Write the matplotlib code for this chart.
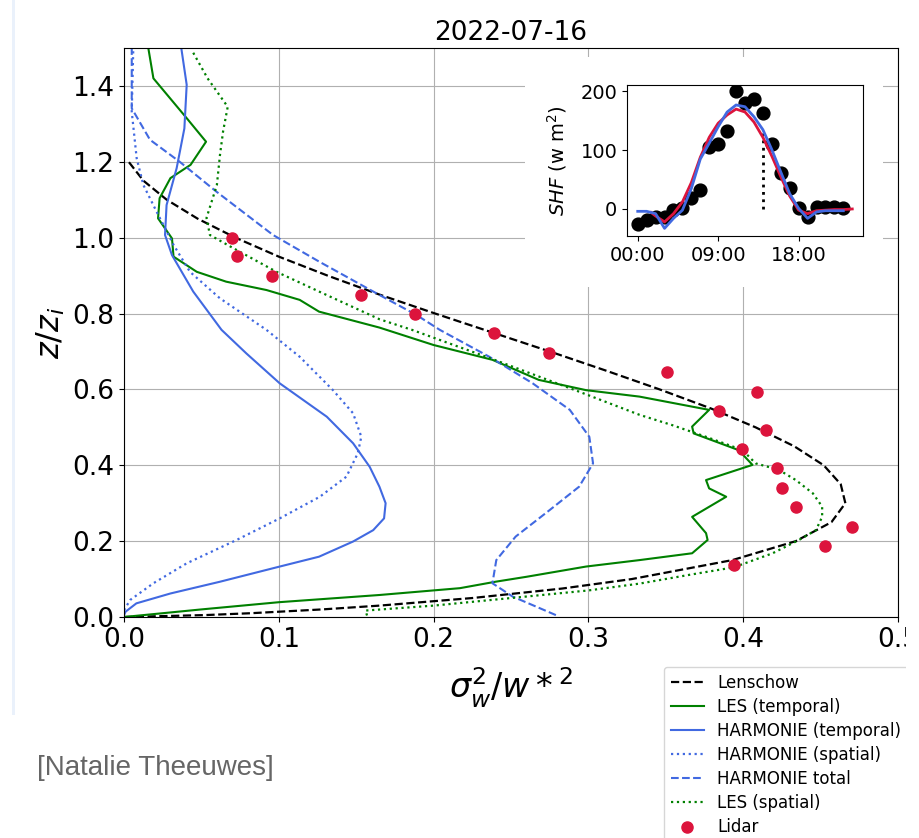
import matplotlib
matplotlib.use("Agg")
import matplotlib.pyplot as plt
from matplotlib.patches import Rectangle

# Lidar profile (z/zi, sigma_w^2 / w*^2)
lidar_z = [1.000, 0.951, 0.900, 0.849, 0.798, 0.748, 0.695, 0.645, 0.594, 0.543,
           0.493, 0.442, 0.392, 0.340, 0.289, 0.238, 0.187, 0.136]
lidar_x = [0.0695, 0.0731, 0.0957, 0.1533, 0.188, 0.2387, 0.2744, 0.3508, 0.4086, 0.3845,
           0.4146, 0.399, 0.4219, 0.425, 0.434, 0.4705, 0.4527, 0.3942]

# Lenschow reference profile
lens_z = [0.0, 0.005, 0.01, 0.02, 0.03, 0.05, 0.075, 0.1, 0.15, 0.2, 0.25, 0.3, 0.35, 0.4,
          0.45, 0.5, 0.55, 0.6, 0.65, 0.7, 0.75, 0.8, 0.85, 0.9, 0.95, 1.0, 1.05, 1.1, 1.15, 1.2]
lens_x = [0.0, 0.052, 0.082, 0.128, 0.165, 0.225, 0.283, 0.328, 0.393, 0.434, 0.457, 0.466,
          0.463, 0.452, 0.433, 0.408, 0.379, 0.346, 0.311, 0.275, 0.238, 0.201, 0.165, 0.1315,
          0.100, 0.072, 0.0476, 0.0276, 0.0126, 0.003]

# LES (temporal)
les_t_z = [0.0, 0.02, 0.039, 0.058, 0.076, 0.093, 0.106, 0.133, 0.150, 0.168, 0.203, 0.221,
           0.264, 0.317, 0.339, 0.361, 0.401, 0.440, 0.484, 0.502, 0.546, 0.581, 0.598, 0.625,
           0.678, 0.717, 0.763, 0.805, 0.836, 0.862, 0.884, 0.910, 0.950, 0.998, 1.051, 1.104,
           1.157, 1.192, 1.253, 1.315, 1.420, 1.500]
les_t_x = [0.0, 0.05, 0.100, 0.165, 0.217, 0.240, 0.260, 0.2985, 0.333, 0.367, 0.377, 0.376,
           0.367, 0.389, 0.378, 0.376, 0.406, 0.397, 0.368, 0.367, 0.378, 0.333, 0.2985, 0.268,
           0.238, 0.200, 0.165, 0.126, 0.1135, 0.092, 0.066, 0.047, 0.032, 0.031, 0.022, 0.023,
           0.030, 0.043, 0.053, 0.0405, 0.019, 0.0157]

# HARMONIE (temporal)
har_t_z = [0.005, 0.014, 0.036, 0.062, 0.093, 0.133, 0.159, 0.199, 0.229, 0.26, 0.30, 0.3435,
           0.396, 0.458, 0.528, 0.616, 0.695, 0.757, 0.858, 0.954, 1.007, 1.086, 1.183, 1.288,
           1.403, 1.500]
har_t_x = [0.0, 0.001, 0.008, 0.030, 0.062, 0.1006, 0.126, 0.148, 0.161, 0.168, 0.169, 0.165,
           0.1587, 0.148, 0.131, 0.1006, 0.079, 0.063, 0.0447, 0.031, 0.0265, 0.0275, 0.034,
           0.039, 0.0405, 0.037]

# HARMONIE (spatial)
har_s_z = [0.018, 0.045, 0.089, 0.1415, 0.203, 0.260, 0.317, 0.370, 0.4315, 0.475, 0.537,
           0.598, 0.686, 0.757, 0.840, 0.910, 0.981, 1.069, 1.139, 1.209, 1.332, 1.500]
har_s_x = [0.0, 0.004, 0.019, 0.0405, 0.0727, 0.1006, 0.1265, 0.1437, 0.151, 0.1533, 0.148,
           0.135, 0.1135, 0.092, 0.062, 0.0426, 0.032, 0.021, 0.0125, 0.0082, 0.005, 0.006]

# HARMONIE total
har_tot_z = [0.005, 0.054, 0.089, 0.150, 0.212, 0.282, 0.3435, 0.405, 0.475, 0.546, 0.616,
             0.686, 0.757, 0.796, 0.849, 0.937, 1.007, 1.121, 1.200, 1.258, 1.341, 1.500]
har_tot_x = [0.279, 0.251, 0.238, 0.2405, 0.253, 0.275, 0.294, 0.303, 0.3006, 0.288, 0.264,
             0.236, 0.204, 0.189, 0.165, 0.126, 0.0963, 0.0598, 0.036, 0.0168, 0.005, 0.005]

# LES (spatial)
les_s_z = [0.004, 0.017, 0.030, 0.050, 0.070, 0.088, 0.111, 0.131, 0.168, 0.203, 0.229, 0.264,
           0.291, 0.326, 0.361, 0.388, 0.405, 0.440, 0.475, 0.506, 0.533, 0.594, 0.680, 0.757,
           0.785, 0.858, 0.910, 0.973, 1.007, 1.052, 1.139, 1.218, 1.280, 1.345, 1.420, 1.495]
les_s_x = [0.157, 0.156, 0.20, 0.25, 0.30, 0.333, 0.365, 0.394, 0.419, 0.436, 0.447, 0.451,
           0.451, 0.445, 0.434, 0.423, 0.408, 0.3996, 0.376, 0.354, 0.333, 0.294, 0.238, 0.186,
           0.165, 0.126, 0.0985, 0.0703, 0.0555, 0.0533, 0.060, 0.062, 0.064, 0.067, 0.054,
           0.0437]

# Inset: sensible heat flux over the day (hours)
obs_hours = list(range(24))
obs_shf = [-26, -19, -14, -13, -2, 1, 18, 32, 106, 111, 132, 200, 180, 188, 163, 110, 61, 35,
           1, -13, 3, 4, 3, 1]
les_hours = [1.5, 2, 3, 4, 5, 6, 7, 8, 9, 10, 11, 12, 13, 14, 15, 16, 17, 18, 19, 20, 21, 22,
             23, 24]
les_shf = [-6, -12, -22, -8, 12, 45, 88, 122, 146, 160, 170, 165, 148, 122, 90, 55, 22, -2, -8,
           -3, -2, -1, -1, 0]
har_hours = list(range(24))
har_shf = [-4, -4, -8, -33, -16, -2, 35, 85, 112, 140, 165, 177, 174, 157, 135, 101, 63, 26, 1,
           -16, -5, -3, -3, -3]
obs_time = 14
inset_ticks = [0, 9, 18]
inset_ticklabels = ["00:00", "09:00", "18:00"]

fig = plt.figure(figsize=(9.2, 8.38), dpi=100)
W, H = 920, 838

# main profile plot
ax = fig.add_axes([124 / W, 1 - 617 / H, 774 / W, 569 / H])
ax.plot(lens_x, lens_z, "--", color="black", lw=1.6, label="Lenschow")
ax.plot(les_t_x, les_t_z, "-", color="green", lw=1.5, label="LES (temporal)")
ax.plot(har_t_x, har_t_z, "-", color="royalblue", lw=1.5, label="HARMONIE (temporal)")
ax.plot(har_s_x, har_s_z, ":", color="royalblue", lw=1.6, label="HARMONIE (spatial)")
ax.plot(har_tot_x, har_tot_z, "--", color="royalblue", lw=1.5, label="HARMONIE total")
ax.plot(les_s_x, les_s_z, ":", color="green", lw=1.6, label="LES (spatial)")
ax.scatter(lidar_x, lidar_z, s=64, color="crimson", zorder=5, label="Lidar")
ax.set_xlim(0, 0.5)
ax.set_ylim(0, 1.5)
ax.set_xticks([0, 0.1, 0.2, 0.3, 0.4, 0.5])
ax.set_yticks([0, 0.2, 0.4, 0.6, 0.8, 1.0, 1.2, 1.4])
ax.grid(True)
ax.tick_params(labelsize=19)
ax.set_xlabel(r"$\sigma_w^2/w*^2$", fontsize=24, labelpad=9)
ax.set_ylabel(r"$z/z_i$", fontsize=23)
ax.set_title("2022-07-16", fontsize=19)

# white backing behind the inset (it hides the grid there)
fig.patches.append(Rectangle((525 / W, 1 - 287 / H), 358 / W, 230 / H,
                             transform=fig.transFigure, facecolor="white",
                             edgecolor="none", zorder=2))

# inset with the heat flux
ins = fig.add_axes([627 / W, 1 - 236 / H, 236 / W, 151 / H], zorder=3)
ins.scatter(obs_hours, obs_shf, s=85, color="black", zorder=2)
ins.plot(les_hours, les_shf, color="crimson", lw=2, zorder=3)
ins.plot(har_hours, har_shf, color="royalblue", lw=2, zorder=4)
ins.plot([obs_time, obs_time], [0, 130], ":", color="black", lw=2)
ins.set_xlim(-1.2, 25.2)
ins.set_ylim(-46, 211)
ins.set_xticks(inset_ticks)
ins.set_xticklabels(inset_ticklabels)
ins.set_yticks([0, 100, 200])
ins.tick_params(labelsize=14)
ins.set_ylabel(r"$SHF$ (w m$^2$)", fontsize=14, labelpad=8)

# legend below the plot, on the right
handles, labels = ax.get_legend_handles_labels()
fig.legend(handles, labels, loc="upper left", bbox_to_anchor=(664 / W, 1 - 667 / H),
           borderaxespad=0, fontsize=12, labelspacing=0.36)

# slide decorations
fig.patches.append(Rectangle((12 / W, 1 - 715 / H), 3 / W, 715 / H, transform=fig.transFigure,
                             facecolor="#eaf1fb", edgecolor="none", zorder=1))
fig.patches.append(Rectangle((906 / W, 0), 14 / W, 1, transform=fig.transFigure,
                             facecolor="white", edgecolor="none", zorder=10))
fig.text(37 / W, 1 - 768 / H, "[Natalie Theeuwes]", fontsize=20, color="#666666",
         family="Liberation Sans", va="center")

fig.savefig("out.png", dpi=100)
